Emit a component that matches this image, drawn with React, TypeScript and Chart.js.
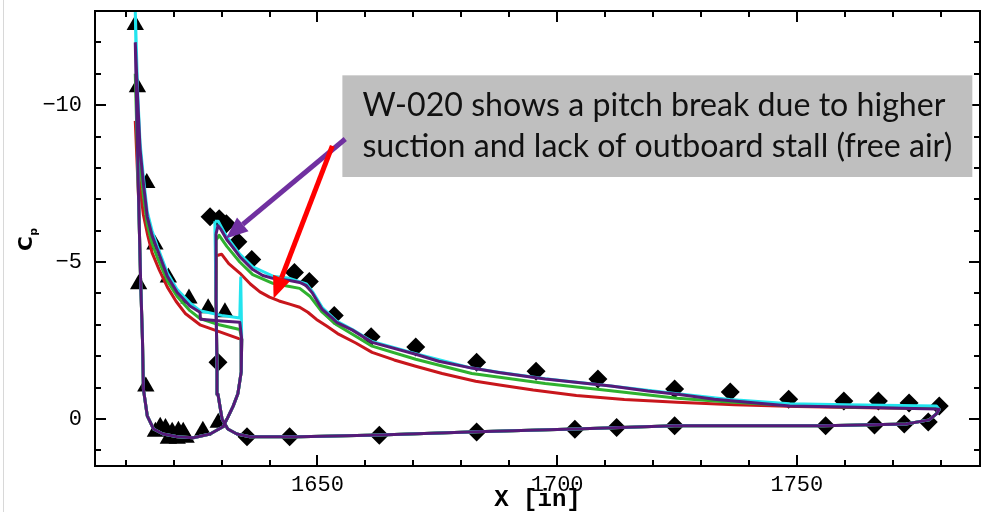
import React, { useEffect, useRef } from 'react';
import { Chart, registerables } from 'chart.js';

Chart.register(...registerables);

// ---------- axis ranges & ticks ----------
const X_MIN = 1603.6;
const X_MAX = 1788.2;
const Y_MIN = -13;
const Y_MAX = 1.5;
const X_TICKS = [1650, 1700, 1750];
const Y_TICKS = [-10, -5, 0];
const X_MINOR_STEP = 10;
const Y_MINOR_STEP = 1;

// ---------- experiment: slat (triangles) ----------
const TRI_X = [1612.0, 1612.45, 1614.4, 1616.1, 1612.7, 1618.9, 1623.2, 1627.2, 1630.7, 1614.2, 1616.2, 1617.2, 1618.3, 1619.7, 1621.0, 1622.0, 1618.9, 1620.75, 1622.6, 1626.1, 1629.3];
const TRI_Y = [-12.55, -10.57, -7.52, -5.56, -4.29, -4.51, -3.84, -3.53, -3.4, -1.03, 0.41, 0.25, 0.29, 0.41, 0.38, 0.41, 0.63, 0.63, 0.6, 0.38, 0.12];

// ---------- experiment: main element (diamonds) ----------
const DIA_X = [1627.6, 1629.5, 1631.0, 1633.4, 1636.3, 1645.2, 1648.3, 1653.5, 1661.2, 1670.5, 1683.2, 1695.6, 1708.5, 1724.5, 1736.1, 1748.3, 1759.8, 1767.0, 1773.4, 1779.7,
  1629.25, 1635.3, 1644.2, 1662.9, 1683.2, 1703.7, 1712.4, 1724.5, 1756.0, 1766.2, 1772.4, 1777.4];
const DIA_Y = [-6.44, -6.38, -6.22, -5.65, -5.08, -4.67, -4.38, -3.3, -2.62, -2.29, -1.81, -1.52, -1.27, -0.95, -0.86, -0.63, -0.57, -0.57, -0.51, -0.41,
  -1.81, 0.57, 0.57, 0.52, 0.42, 0.33, 0.27, 0.22, 0.22, 0.19, 0.16, 0.1];

// ---------- CFD: slat lower surface (shared, TE -> LE) ----------
const SLAT_LOW_X = [1634.2, 1634.1, 1633.4, 1632.4, 1631.3, 1630.3, 1627.6, 1624.1, 1620.8, 1617.8, 1615.8, 1614.5, 1613.7, 1613.5, 1613.1, 1612.7];
const SLAT_LOW_Y = [-2.54, -1.5, -0.8, -0.4, -0.05, 0.25, 0.48, 0.6, 0.57, 0.48, 0.32, -0.1, -0.95, -2.54, -4.5, -7.0];

// ---------- CFD: slat upper surfaces (LE -> TE) ----------
const P_SLAT_X = [1612.0, 1612.5, 1613.0, 1613.7, 1614.5, 1615.5, 1616.6, 1618.7, 1620.75, 1623.4, 1625.5, 1625.6, 1630.0, 1633.8];
const P_SLAT_Y = [-12.0, -10.2, -8.6, -7.5, -6.45, -5.85, -5.4, -4.55, -4.03, -3.6, -3.4, -3.18, -3.12, -3.08];
const C_SLAT_X = [1612.0, 1612.5, 1613.0, 1613.7, 1614.5, 1615.5, 1616.6, 1618.7, 1620.75, 1623.4, 1625.5, 1630.0, 1633.8, 1634.0];
const C_SLAT_Y = [-13.0, -10.4, -8.8, -7.7, -6.6, -6.0, -5.5, -4.65, -4.12, -3.7, -3.45, -3.3, -3.22, -4.5];
const G_SLAT_X = [1612.0, 1612.5, 1613.0, 1613.7, 1614.5, 1615.5, 1616.6, 1618.7, 1620.75, 1623.4, 1625.5, 1629.5, 1633.8];
const G_SLAT_Y = [-11.0, -9.6, -8.2, -7.1, -6.2, -5.6, -5.15, -4.4, -3.9, -3.45, -3.2, -3.0, -2.85];
const R_SLAT_X = [1612.0, 1612.4, 1612.9, 1613.7, 1614.6, 1615.5, 1617.0, 1618.7, 1620.5, 1622.5, 1625.5, 1629.5, 1633.6];
const R_SLAT_Y = [-9.5, -8.5, -7.5, -6.5, -5.85, -5.3, -4.75, -4.2, -3.75, -3.35, -3.0, -2.78, -2.56];

// ---------- CFD: main element lower surface (shared, TE -> LE) ----------
const MAIN_LOW_X = [1779.7, 1779.1, 1777.6, 1772.8, 1755.6, 1724.5, 1703.7, 1683.2, 1662.9, 1646.3, 1640.0, 1635.9, 1633.2, 1631.3, 1630.1, 1629.25, 1629.05, 1628.85];
const MAIN_LOW_Y = [-0.3, -0.16, 0.03, 0.16, 0.22, 0.22, 0.32, 0.41, 0.51, 0.57, 0.57, 0.57, 0.48, 0.32, 0.0, -0.79, -1.59, -3.8];

// ---------- CFD: main element upper surfaces (LE -> TE) ----------
const P_MAIN_X = [1628.85, 1629.25, 1629.9, 1631.1, 1632.4, 1633.8, 1636.5, 1638.6, 1640.7, 1644.2, 1646.3, 1647.7, 1649.0, 1651.0, 1653.1, 1654.0, 1657.3, 1661.4, 1670.5, 1675.3, 1682.2, 1687.8, 1697.5, 1711.2, 1718.9, 1725.1, 1732.8, 1748.5, 1760.4, 1779.1];
const P_MAIN_Y = [-5.9, -6.16, -6.03, -5.71, -5.46, -5.17, -4.76, -4.57, -4.48, -4.41, -4.35, -4.25, -4.0, -3.49, -3.21, -3.08, -2.83, -2.44, -2.06, -1.84, -1.62, -1.48, -1.27, -1.05, -0.89, -0.79, -0.63, -0.41, -0.38, -0.32];
const C_MAIN_X = [1628.6, 1629.3, 1630.0, 1631.1, 1633.8, 1636.5, 1640.7, 1644.2, 1647.7, 1649.0, 1651.0, 1654.0, 1657.3, 1661.4, 1670.5, 1682.2, 1687.8, 1697.5, 1711.2, 1725.1, 1736.0, 1748.5, 1760.4, 1779.1];
const C_MAIN_Y = [-6.3, -6.3, -6.1, -5.8, -5.25, -4.85, -4.55, -4.48, -4.3, -4.05, -3.55, -3.12, -2.85, -2.47, -2.08, -1.62, -1.49, -1.28, -1.05, -0.8, -0.62, -0.48, -0.45, -0.41];
const G_MAIN_X = [1628.85, 1629.5, 1631.1, 1633.8, 1636.5, 1640.7, 1644.2, 1646.3, 1648.5, 1651.0, 1654.0, 1657.3, 1661.4, 1670.5, 1682.2, 1688.0, 1697.5, 1711.2, 1725.1, 1735.0, 1748.5, 1760.4, 1779.1];
const G_MAIN_Y = [-5.7, -5.85, -5.5, -5.0, -4.6, -4.32, -4.22, -4.16, -3.9, -3.4, -3.0, -2.7, -2.32, -1.9, -1.45, -1.33, -1.13, -0.9, -0.66, -0.55, -0.43, -0.38, -0.33];
const R_MAIN_X = [1628.85, 1630.0, 1631.5, 1633.8, 1636.0, 1638.0, 1640.0, 1642.0, 1644.2, 1646.3, 1648.0, 1649.8, 1652.0, 1654.2, 1658.0, 1661.4, 1666.0, 1670.5, 1676.0, 1683.0, 1688.0, 1695.0, 1704.0, 1714.0, 1725.0, 1737.0, 1750.0, 1765.0, 1779.1];
const R_MAIN_Y = [-5.2, -5.25, -4.95, -4.65, -4.3, -4.05, -3.88, -3.76, -3.66, -3.56, -3.4, -3.17, -2.95, -2.72, -2.42, -2.12, -1.88, -1.68, -1.45, -1.2, -1.08, -0.92, -0.75, -0.62, -0.53, -0.45, -0.4, -0.36, -0.33];

// ---------- annotation (data units) ----------
const NOTE_LINES = ['W-020 shows a pitch break due to higher', 'suction and lack of outboard stall (free air)'];
const NOTE_BOX = { x0: 1655.2, x1: 1786.6, y0: -10.95, y1: -7.71 };
const PURPLE_ARROW = { x0: 1655.8, y0: -8.92, x1: 1630.9, y1: -5.75 };
const RED_ARROW = { x0: 1653.1, y0: -8.7, x1: 1640.85, y1: -3.84 };

const COL_PURPLE = '#561a78';
const COL_CYAN = '#22e4ee';
const COL_GREEN = '#2fb12f';
const COL_RED = '#c8161c';

const pts = (xs: number[], ys: number[]) => xs.map((x, i) => ({ x, y: ys[i] }));
const loop = (ux: number[], uy: number[], lx: number[], ly: number[]) => [
  ...pts(ux, uy),
  ...pts(lx, ly),
  { x: ux[0], y: uy[0] },
];

function drawArrow(ctx: CanvasRenderingContext2D, x1: number, y1: number, x2: number, y2: number, color: string, w: number, hl: number, hw: number) {
  const a = Math.atan2(y2 - y1, x2 - x1);
  const bx = x2 - hl * Math.cos(a);
  const by = y2 - hl * Math.sin(a);
  ctx.save();
  ctx.strokeStyle = color;
  ctx.lineWidth = w;
  ctx.lineCap = 'butt';
  ctx.beginPath();
  ctx.moveTo(x1, y1);
  ctx.lineTo(bx, by);
  ctx.stroke();
  ctx.fillStyle = color;
  ctx.beginPath();
  ctx.moveTo(x2, y2);
  ctx.lineTo(bx + (hw / 2) * Math.sin(a), by - (hw / 2) * Math.cos(a));
  ctx.lineTo(bx - (hw / 2) * Math.sin(a), by + (hw / 2) * Math.cos(a));
  ctx.closePath();
  ctx.fill();
  ctx.restore();
}

const decorPlugin = {
  id: 'decor',
  beforeDraw(chart: any) {
    const ctx = chart.ctx as CanvasRenderingContext2D;
    ctx.save();
    ctx.fillStyle = '#ffffff';
    ctx.fillRect(0, 0, chart.width, chart.height);
    ctx.strokeStyle = '#d8d8d8';
    ctx.lineWidth = 1;
    ctx.beginPath();
    ctx.moveTo(3.5, 0);
    ctx.lineTo(3.5, chart.height);
    ctx.stroke();
    ctx.restore();
  },
  afterDraw(chart: any) {
    const ctx = chart.ctx as CanvasRenderingContext2D;
    const xs = chart.scales.x;
    const ys = chart.scales.y;
    const { left, right, top, bottom } = chart.chartArea;
    ctx.save();
    // frame
    ctx.strokeStyle = '#000';
    ctx.lineWidth = 2;
    ctx.strokeRect(left, top, right - left, bottom - top);
    // inward ticks
    ctx.lineWidth = 2;
    ctx.beginPath();
    for (let v = Math.ceil(X_MIN / X_MINOR_STEP) * X_MINOR_STEP; v <= X_MAX; v += X_MINOR_STEP) {
      const px = Math.round(xs.getPixelForValue(v));
      const len = X_TICKS.includes(v) ? 11 : 6;
      ctx.moveTo(px, bottom);
      ctx.lineTo(px, bottom - len);
      ctx.moveTo(px, top);
      ctx.lineTo(px, top + len);
    }
    for (let v = Math.ceil(Y_MIN); v <= Y_MAX; v += Y_MINOR_STEP) {
      const py = Math.round(ys.getPixelForValue(v));
      const len = Y_TICKS.includes(v) ? 11 : 6;
      ctx.moveTo(left, py);
      ctx.lineTo(left + len, py);
      ctx.moveTo(right, py);
      ctx.lineTo(right - len, py);
    }
    ctx.stroke();

    // Cp axis title (rotated)
    ctx.fillStyle = '#000';
    ctx.save();
    ctx.translate(32, 251);
    ctx.rotate(-Math.PI / 2);
    ctx.textAlign = 'left';
    ctx.textBaseline = 'alphabetic';
    ctx.font = 'bold 20px "DejaVu Sans"';
    ctx.fillText('C', 0, 0);
    const cw = ctx.measureText('C').width;
    ctx.font = 'bold 11px "DejaVu Sans"';
    ctx.fillText('p', cw + 0.5, 5);
    ctx.restore();

    // annotation box
    const bx0 = xs.getPixelForValue(NOTE_BOX.x0);
    const bx1 = xs.getPixelForValue(NOTE_BOX.x1);
    const by0 = ys.getPixelForValue(NOTE_BOX.y0);
    const by1 = ys.getPixelForValue(NOTE_BOX.y1);
    ctx.fillStyle = '#bfbfbf';
    ctx.fillRect(bx0, by0, bx1 - bx0, by1 - by0);
    ctx.fillStyle = '#111';
    ctx.textAlign = 'left';
    ctx.textBaseline = 'alphabetic';
    let fs = 30;
    ctx.font = `${fs}px Lato`;
    const w2 = ctx.measureText(NOTE_LINES[1]).width;
    fs = (fs * 590) / w2;
    ctx.font = `${fs.toFixed(2)}px Lato`;
    ctx.fillText(NOTE_LINES[0], bx0 + 20, by0 + 41);
    ctx.fillText(NOTE_LINES[1], bx0 + 20, by0 + 82);

    // arrows
    drawArrow(ctx, xs.getPixelForValue(PURPLE_ARROW.x0), ys.getPixelForValue(PURPLE_ARROW.y0), xs.getPixelForValue(PURPLE_ARROW.x1), ys.getPixelForValue(PURPLE_ARROW.y1), '#7030a0', 5, 22, 18);
    drawArrow(ctx, xs.getPixelForValue(RED_ARROW.x0), ys.getPixelForValue(RED_ARROW.y0), xs.getPixelForValue(RED_ARROW.x1), ys.getPixelForValue(RED_ARROW.y1), '#ff0000', 5, 22, 18);
    ctx.restore();
  },
};

const lineDs = (data: any[], color: string) => ({
  data,
  showLine: true,
  borderColor: color,
  backgroundColor: color,
  borderWidth: 3,
  pointRadius: 0,
  tension: 0,
  borderJoinStyle: 'round' as const,
});

export default function App() {
  const ref = useRef<HTMLCanvasElement | null>(null);
  useEffect(() => {
    if (!ref.current) return;
    const chart = new Chart(ref.current, {
      type: 'scatter',
      data: {
        datasets: [
          lineDs(loop(P_MAIN_X, P_MAIN_Y, MAIN_LOW_X, MAIN_LOW_Y), COL_PURPLE),
          lineDs(loop(P_SLAT_X, P_SLAT_Y, SLAT_LOW_X, SLAT_LOW_Y), COL_PURPLE),
          lineDs(loop(C_MAIN_X, C_MAIN_Y, MAIN_LOW_X, MAIN_LOW_Y), COL_CYAN),
          lineDs(loop(C_SLAT_X, C_SLAT_Y, SLAT_LOW_X, SLAT_LOW_Y), COL_CYAN),
          lineDs(loop(G_MAIN_X, G_MAIN_Y, MAIN_LOW_X, MAIN_LOW_Y), COL_GREEN),
          lineDs(loop(G_SLAT_X, G_SLAT_Y, SLAT_LOW_X, SLAT_LOW_Y), COL_GREEN),
          lineDs(loop(R_MAIN_X, R_MAIN_Y, MAIN_LOW_X, MAIN_LOW_Y), COL_RED),
          lineDs(loop(R_SLAT_X, R_SLAT_Y, SLAT_LOW_X, SLAT_LOW_Y), COL_RED),
          {
            data: pts(DIA_X, DIA_Y),
            pointStyle: 'rectRot',
            pointRadius: 9.5,
            backgroundColor: '#000',
            borderColor: '#000',
            borderWidth: 0,
          },
          {
            data: pts(TRI_X, TRI_Y),
            pointStyle: 'triangle',
            pointRadius: 10,
            backgroundColor: '#000',
            borderColor: '#000',
            borderWidth: 0,
          },
        ] as any,
      },
      options: {
        animation: false,
        responsive: false,
        devicePixelRatio: 1,
        layout: { padding: { top: 11, right: 7, left: 0, bottom: 0 } },
        plugins: { legend: { display: false }, tooltip: { enabled: false } },
        scales: {
          x: {
            type: 'linear',
            min: X_MIN,
            max: X_MAX,
            afterBuildTicks: (s: any) => {
              s.ticks = X_TICKS.map((v) => ({ value: v }));
            },
            afterFit: (s: any) => {
              s.height = 46;
              s.paddingLeft = 0;
              s.paddingRight = 0;
              s.paddingTop = 0;
              s.paddingBottom = 0;
            },
            grid: { display: false, drawTicks: false },
            border: { display: false },
            ticks: {
              autoSkip: false,
              maxRotation: 0,
              padding: 6,
              color: '#000',
              font: { family: 'Liberation Mono', size: 22 },
              callback: (v: any) => String(v),
            },
            title: {
              display: true,
              text: 'X [in]',
              color: '#000',
              font: { family: 'Liberation Mono', size: 24, weight: 'bold', lineHeight: 1 },
              padding: { top: 0, bottom: 0 },
            },
          },
          y: {
            type: 'linear',
            min: Y_MIN,
            max: Y_MAX,
            reverse: true,
            afterBuildTicks: (s: any) => {
              s.ticks = Y_TICKS.map((v) => ({ value: v }));
            },
            afterFit: (s: any) => {
              s.width = 95;
              s.paddingLeft = 0;
              s.paddingRight = 0;
              s.paddingTop = 0;
              s.paddingBottom = 0;
            },
            grid: { display: false, drawTicks: false },
            border: { display: false },
            ticks: {
              padding: 13,
              color: '#000',
              font: { family: 'Liberation Mono', size: 22 },
              callback: (v: any) => (v < 0 ? '\u2212' + Math.abs(v) : String(v)),
            },
          },
        },
      } as any,
      plugins: [decorPlugin],
    });
    return () => chart.destroy();
  }, []);
  return (
    <div style={{ position: 'absolute', left: 0, top: 0, width: 990, height: 512, background: '#fff' }}>
      <canvas ref={ref} width={990} height={512} style={{ width: 990, height: 512, display: 'block' }} />
    </div>
  );
}
